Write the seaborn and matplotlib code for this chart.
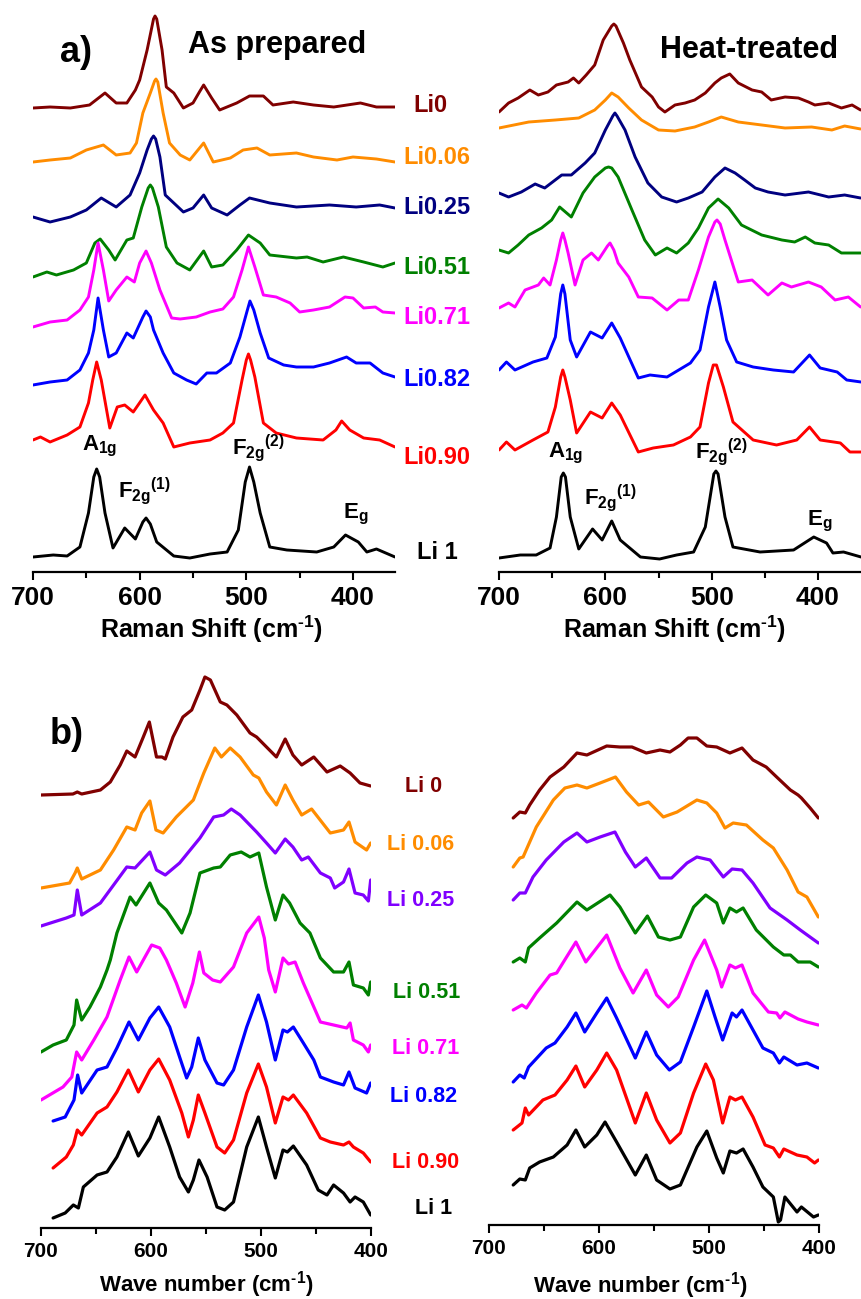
import matplotlib
matplotlib.use("Agg")
import matplotlib.pyplot as plt
import pandas as pd
import seaborn as sns
from matplotlib.ticker import MultipleLocator

# ---------------- data (wavenumber, displayed intensity incl. offset) ----------------
# a) As prepared
ap_li0 = [(700,464),(684,465),(665,464),(647,467),(632.5,479),(622,469),(612,469),(604,482),(600,492),(593,522),(587,553),(585.6,556),(584,553),(579,522),(575,485),(568,479),(559,464),(550,469),(544,480),(540,487),(532.5,474),(525,462),(509,469),(497,476),(484,476),(475,467),(456,470),(437,467),(418,465),(393,469),(378,465),(360.6,465)]
ap_li006 = [(700,410),(684,412),(665,414),(650,422),(634,427),(622,417),(609,419),(603,429),(597,459),(590,479),(586,491),(584.7,493),(583,490),(578,459),(572,429),(562,417),(553,412),(540,429),(531,410),(515,414),(503,422),(490,424),(478,417),(453,419),(437,415),(415,412),(400,415),(378,413),(360.6,410)]
ap_li025 = [(700,355),(684,350),(665,355),(650,362),(636,374),(622,365),(609,377),(600,399),(593,422),(589,433),(587,436),(585,433),(581,415),(576,377),(568,369),(559,360),(550,364),(540,377),(532.5,364),(518,357),(506,367),(497,374),(478,369),(453,365),(422,367),(397,365),(375,367),(360.6,364)]
ap_li051 = [(700,295),(687,300),(678,297),(662,302),(650,309),(642,329),(637,333),(629,322),(623,312),(612,332),(606,334),(598,365),(592,384),(590,387),(588,384),(582.5,365),(575,325),(565,309),(553,302),(540,321),(532.5,305),(522,307),(509,322),(498,337),(487,329),(478,317),(453,314),(443,315),(428,310),(409,315),(390,310),(372,305),(360.6,309)]
ap_li071 = [(700,245),(684,250),(668,252),(656,262),(648,275),(643,302),(639,329),(634,302),(629,271),(622,282),(612,295),(605,290),(600,309),(594,321),(589,309),(581,282),(570,254),(562,253),(547,255),(534,260),(522,263),(512,275),(504,302),(498,325),(492,305),(484,277),(472,275),(459,269),(450,260),(437,262),(422,265),(407.5,275),(400,274),(390,264),(379,265),(372,260),(360.6,259)]
ap_li082 = [(700,187),(684,190),(668,192),(656,202),(648,219),(643,242),(639,274),(634,242),(629,215),(622,219),(612,239),(606,234),(597,255),(594,261),(590,255),(587,242),(578,219),(568,199),(556,192),(547,188),(537,199),(528,199),(515,209),(506,235),(499,262),(496.6,271),(493,262),(487,239),(479,214),(465,207),(453,205),(437,205),(422,209),(406,215),(397,209),(384,209),(372,199),(360.6,195)]
ap_li090 = [(700,132),(693,135),(684,130),(668,137),(656,145),(648,169),(644,192),(640.3,210),(636,192),(628,144),(621,165),(614,167),(606,160),(595,177),(587,162),(578,149),(568,125),(553,129),(534,132),(522,139),(512,149),(504,192),(500,212),(498,218),(496,212),(492,195),(484,149),(472,139),(453,134),(428,132),(416,142),(410.6,151),(403,142),(390,134),(375,132),(360.6,125)]
ap_li1 = [(700,15),(681,17),(668,16),(656,25),(648,59),(643,95),(640.3,103),(637.5,95),(632.5,59),(625,24),(614,44),(604,33),(597,50),(594,54),(590,48),(584,30),(568,16),(553,14),(534,18),(518,20),(507.5,42),(501,90),(497,105),(493,90),(487,59),(478,25),(462,22),(434,20),(418,25),(407,37),(395,30),(387,20),(378,23),(360.6,15)]

# a) Heat-treated
ht_li0 = [(700,460),(691,469),(682,474),(671,482),(663,477),(654,480),(646,487),(635,490),(630,494),(625,489),(618,497),(610,507),(602,532),(594,546),(592,548),(590,546),(583,529),(577,512),(566,485),(556,475),(550,465),(544,460),(534.5,467),(525,469),(516,472),(506,479),(497,489),(491,494),(483,498),(475,489),(462,482),(453,480),(444,472),(431,475),(418.5,474),(409,470),(403,467),(390,469),(378,464),(368,467),(360,462)]
ht_li006 = [(700,444),(672,450),(647,452),(625,454),(610,462),(600,472),(594,479),(588,475),(578,464),(566,452),(550,442),(534.5,441),(516,445),(503,450),(491,455),(475,450),(453,447),(431,444),(406,445),(387,442),(375,446),(360,443)]
ht_li025 = [(700,379),(691,375),(679,380),(666,388),(657,384),(641,397),(632,397),(619,409),(610,419),(600,442),(593,456),(591,459),(589,456),(581.5,442),(572,415),(560,389),(547,375),(533,370),(522,374),(509,380),(497,395),(487.5,404),(478,399),(469,392),(459,384),(447,380),(431,377),(409,380),(390,375),(375,377),(360,374)]
ht_li051 = [(700,322),(691,319),(682,327),(672,337),(660,344),(650.5,352),(643,365),(632,355),(621,379),(610,395),(600,404),(597,405),(594,404),(588,395),(575,362),(563,332),(553,317),(542,324),(533,319),(522,329),(512.5,344),(503,364),(494,373),(484,364),(472,347),(453,337),(434,332),(422,330),(412,335),(403,329),(390,327),(378,319),(360,319)]
ht_li071 = [(700,264),(691,269),(685,265),(675.5,282),(663,287),(658,294),(652,287),(646,312),(642,332),(640,339),(638,332),(635,319),(628.5,287),(621,312),(613,319),(606.6,312),(598,326),(595.6,329),(592,322),(588,309),(578,295),(569,275),(556,274),(542,262),(531,272),(522,272),(512.5,302),(503,335),(497,350),(495,352),(492,348),(487.5,332),(475,290),(462,292),(447,277),(434,289),(425,285),(409,290),(397,285),(384,272),(371.5,275),(360,265)]
ht_li082 = [(700,202),(693,210),(685,202),(668,210),(655,214),(647,235),(642,278),(640,287),(638,278),(633,232),(627,215),(614,240),(603,234),(594,249),(586,234),(569,194),(558,197),(542,195),(520,209),(511,222),(503,265),(497,290),(492,265),(486,232),(476.5,210),(461,205),(442,202),(423,200),(408,217),(398,204),(382,200),(373,192),(359.6,190)]
ht_li090 = [(700,122),(693,130),(685,122),(668,132),(654,140),(647,165),(642,195),(640,202),(638,195),(633,172),(627,139),(614,160),(603,154),(594,169),(586,157),(569,120),(555,124),(536,127),(520,135),(511,145),(503,189),(498.5,207),(495.5,207),(489,185),(480,150),(461,132),(439,127),(420,132),(408,145),(398,132),(379,129),(370,120),(359.6,120)]
ht_li1 = [(700,14),(680,17),(665,17),(652,24),(646,55),(641.5,95),(639.5,99),(637.5,95),(633,55),(625,23),(612,43),(603,32),(594,51),(586,32),(567,15),(549,13),(533,17),(517,20),(506,45),(498,98),(496,101),(494,98),(487.5,55),(480,25),(454.5,20),(423,22),(404,35),(392,29),(386,19),(376,20),(359.6,15)]

# b) left
bl_li0 = [(700,433),(671,434),(667,436),(663,434),(646,438),(637,446),(628,463),(622,477),(614.5,471),(607,491),(601.5,506),(595,471),(590,471),(587,469),(580,491),(571,511),(563,518),(555.5,538),(551,551),(546,548),(537,526),(531,523),(522,513),(510,495),(504,491),(495,481),(486,471),(478,489),(471,473),(463,463),(452,471),(440,456),(428,462),(419,455),(410,445),(400.3,442)]
bl_li006 = [(700,340),(674,345),(669,355),(667,360),(663,349),(646,358),(634,378),(622,401),(614.5,398),(608.5,415),(601,427),(595.5,398),(589,395),(577,411),(561.5,428),(552,455),(542,480),(536,471),(528,480),(519,471),(507,453),(502,450),(495,436),(486,423),(478,443),(471,428),(463,413),(454,419),(437,395),(425,398),(420,406),(414.5,386),(404,378),(400.3,385)]
bl_li025 = [(700,302),(677,310),(670,313),(667,338),(663,313),(646,325),(634,343),(622,361),(614.5,360),(601,376),(595,358),(587,353),(574,365),(555.5,390),(543,411),(534,413),(527,419),(519,413),(504,396),(495,385),(487,375),(478,389),(471,381),(463,368),(457,371),(446,355),(437,350),(433,340),(425,346),(420,359),(414.5,335),(407,333),(402.4,327),(400.3,348)]
bl_li051 = [(700,176),(689,183),(677,188),(670,203),(667.6,228),(663,208),(655.5,221),(646,241),(640,258),(637,268),(631,295),(619,331),(613.6,323),(601,345),(593,325),(586,318),(572,295),(564.5,315),(555.5,355),(543,360),(537,361),(528,373),(518,376),(510,371),(502,375),(495,341),(487,308),(480,333),(474,325),(464.5,305),(455.5,295),(446,270),(434,256),(425,256),(420,266),(416,243),(407,240),(402.4,233),(400.3,246)]
bl_li071 = [(700,128),(680,141),(672,151),(667.6,176),(663,168),(652,188),(640,211),(628,248),(620,271),(613,256),(606,270),(599.4,283),(592,280),(586,268),(577,245),(569,221),(562,245),(556,276),(552,255),(544,248),(537,246),(525,261),(513,295),(502,311),(497,290),(493,258),(487,236),(480,270),(475,264),(469,266),(461.5,245),(446,206),(434,203),(422,200),(419,205),(416,188),(407,183),(402.4,176),(400.3,183)]
bl_li082 = [(689,107),(678,111),(670,128),(666.7,153),(663,135),(649,158),(640,161),(631,180),(620,206),(611.5,188),(601,210),(593,221),(583,201),(574,171),(567.6,150),(563,161),(557,190),(551,168),(540,145),(534,143),(525,158),(513,201),(502.4,233),(495,206),(487,168),(480,198),(476,196),(470.6,201),(461.5,185),(452,168),(446,151),(434,146),(425,143),(420,156),(414.5,140),(404,135),(400.3,145)]
bl_li090 = [(689,60),(677,71),(670.6,83),(667,98),(663,93),(649,115),(640,121),(631,136),(620.6,158),(611.5,136),(601,158),(593,169),(583,148),(572,115),(566,91),(561.5,108),(557,133),(551,115),(540,81),(533,75),(525,88),(513,135),(502.4,164),(495,141),(487,105),(480,131),(475,128),(470.6,133),(458.5,115),(446,90),(437,86),(425,83),(420,86),(416,81),(407,75),(400.3,66)]
bl_li1 = [(689,10),(678,15),(670.6,23),(666,20),(661.5,41),(649,53),(640,56),(631,71),(620.6,96),(611.5,72),(601,90),(593,111),(583,81),(574,51),(566,36),(561.5,48),(556.4,68),(549,51),(540,21),(533,18),(525,26),(513,81),(502.4,111),(495,81),(487,50),(480,78),(476,76),(470.6,82),(458.5,63),(448,38),(440,33),(434,43),(425,35),(419,26),(414.5,31),(407,26),(400.3,13)]

# b) right
br_li0 = [(678,407),(672,413),(667,412),(663,420),(654,435),(644.5,448),(632,458),(620,472),(611,470),(593,479),(581,478),(570,478),(557,472),(544.5,475),(535.5,473),(526,480),(519,487),(511,487),(502,479),(493,478),(481,472),(470,477),(460,465),(448,458),(438.5,448),(426,435),(419,430),(416,427),(408,417),(400.6,407)]
br_li006 = [(678,358),(672,367),(669,368),(657,398),(641.5,425),(631,437),(620,440),(611,437),(599,442),(585,448),(575,433),(564,420),(555,423),(541.5,408),(529,413),(511,425),(502,422),(493,412),(485.5,397),(478,402),(466,400),(451,385),(441.5,377),(429,355),(419,333),(411,328),(400.6,308)]
br_li025 = [(678,325),(672,332),(667,332),(660,348),(648,365),(632,383),(620,392),(611,383),(599,388),(585.5,393),(576,373),(567,358),(557,367),(544.5,347),(534,347),(520,362),(511,368),(499,365),(487,348),(479,356),(470,355),(460,342),(444.5,317),(429,305),(417,295),(400.6,282)]
br_li051 = [(678,263),(672,267),(667,263),(664,277),(654,287),(638.5,302),(620,323),(611,315),(590,330),(581,318),(567,292),(556,309),(546,288),(535.5,285),(526,288),(514,318),(503,330),(493,322),(487,302),(481,317),(475,313),(469,317),(457,295),(441.5,278),(432,270),(426,270),(419,263),(408,263),(400.6,258)]
br_li071 = [(678,215),(670,220),(666,217),(657,232),(644.5,250),(638.5,252),(621,283),(612,263),(593,290),(581,257),(569,232),(557,255),(547.6,230),(537,218),(528,228),(514,265),(504,285),(493,255),(488.5,238),(481,260),(476,257),(470,260),(460,232),(446,213),(438.5,212),(435.5,207),(431,213),(419,206),(411,203),(400.6,200)]
br_li082 = [(678,143),(672,150),(668,147),(664,158),(648,177),(640,182),(629,198),(621,212),(613,193),(602,212),(593,227),(584,207),(567,167),(557,193),(547.6,170),(536,155),(526,163),(514,198),(502,234),(494.5,208),(487.6,185),(479,212),(475,208),(470,215),(460,195),(451,177),(441.5,172),(436,162),(432,168),(420,160),(411,162),(400.6,157)]
br_li090 = [(678,95),(670,102),(667,117),(664,110),(651,125),(640,130),(629,145),(621,159),(613,138),(602,155),(593,172),(584,155),(567,102),(557,132),(547.6,105),(535.5,82),(526,92),(514,132),(503,161),(496,145),(487.6,102),(481,128),(476,125),(470,128),(460,108),(449,80),(441.5,77),(436,68),(432,76),(420,70),(411,68),(404,62),(400.6,65)]
br_li1 = [(678,40),(672,46),(667,45),(663,57),(654,63),(641.5,68),(629,80),(621,95),(613,78),(602,90),(594.5,103),(584,83),(567,50),(557,70),(547.6,45),(535.5,36),(526,40),(511,78),(502,94),(493,67),(487,52),(481,74),(475,72),(469,76),(460,58),(451,38),(441.5,28),(437,3),(435,5),(431,28),(420,13),(416,18),(405,8),(400.6,10)]

top_names = ["Li0", "Li0.06", "Li0.25", "Li0.51", "Li0.71", "Li0.82", "Li0.90", "Li 1"]
bot_names = ["Li 0", "Li 0.06", "Li 0.25", "Li 0.51", "Li 0.71", "Li 0.82", "Li 0.90", "Li 1"]
top_colors = ["#800000", "#FF8C00", "#000080", "#008000", "#FF00FF", "#0000FF", "#FF0000", "#000000"]
bot_colors = ["#800000", "#FF8C00", "#8000FF", "#008000", "#FF00FF", "#0000FF", "#FF0000", "#000000"]

ap_curves = [ap_li0, ap_li006, ap_li025, ap_li051, ap_li071, ap_li082, ap_li090, ap_li1]
ht_curves = [ht_li0, ht_li006, ht_li025, ht_li051, ht_li071, ht_li082, ht_li090, ht_li1]
bl_curves = [bl_li0, bl_li006, bl_li025, bl_li051, bl_li071, bl_li082, bl_li090, bl_li1]
br_curves = [br_li0, br_li006, br_li025, br_li051, br_li071, br_li082, br_li090, br_li1]


def to_frame(curves, names):
    rows = []
    for name, pts in zip(names, curves):
        for x, y in pts:
            rows.append((name, x, y))
    return pd.DataFrame(rows, columns=["sample", "wn", "intensity"])


sns.set_theme(style="white")
plt.rcParams["font.family"] = ["Liberation Sans", "DejaVu Sans"]
plt.rcParams["font.weight"] = "bold"
plt.rcParams["text.color"] = "black"
plt.rcParams["axes.labelcolor"] = "black"
plt.rcParams["xtick.color"] = "black"
plt.rcParams["xtick.labelcolor"] = "black"
plt.rcParams["mathtext.fontset"] = "custom"
plt.rcParams["mathtext.rm"] = "Liberation Sans:bold"
plt.rcParams["mathtext.it"] = "Liberation Sans:bold"
plt.rcParams["mathtext.bf"] = "Liberation Sans:bold"
plt.rcParams["mathtext.default"] = "bf"

W, H = 861, 1299
fig = plt.figure(figsize=(W / 100, H / 100), dpi=100)
fig.patch.set_facecolor("white")


def add_ax(left, right, top, bottom):
    ax = fig.add_axes([left / W, 1 - bottom / H, (right - left) / W, (bottom - top) / H])
    ax.set_facecolor("none")
    return ax


def ftext(px, py, s, **kw):
    fig.text(px / W, 1 - py / H, s, **kw)


def draw_panel(ax, curves, names, colors, xlim, ylim, lw, tick_fs, xlabel, label_fs, label_xy):
    df = to_frame(curves, names)
    sns.lineplot(data=df, x="wn", y="intensity", hue="sample", hue_order=names,
                 palette=colors, estimator=None, sort=False, legend=False,
                 linewidth=lw, ax=ax)
    ax.set_xlim(*xlim)
    ax.set_ylim(*ylim)
    for s in ["top", "left", "right"]:
        ax.spines[s].set_visible(False)
    ax.spines["bottom"].set_linewidth(1.6)
    ax.spines["bottom"].set_color("black")
    ax.set_yticks([])
    ax.set_ylabel("")
    ax.xaxis.set_major_locator(MultipleLocator(100))
    ax.xaxis.set_minor_locator(MultipleLocator(50))
    ax.tick_params(axis="x", which="major", direction="out", length=6, width=1.5,
                   labelsize=tick_fs, pad=4, bottom=True, colors="black", labelcolor="black")
    ax.tick_params(axis="x", which="minor", direction="out", length=4, width=1.5, bottom=True,
                   colors="black")
    for t in ax.get_xticklabels():
        t.set_fontweight("bold")
    ax.set_xlabel(xlabel, fontsize=label_fs, fontweight="bold", color="black")
    ax.xaxis.label.set_va("center")
    ax.xaxis.set_label_coords(*label_xy)


ax_tl = add_ax(33, 395, 0, 572)
draw_panel(ax_tl, ap_curves, top_names, top_colors, (700, 360.6), (0, 572), 2.1, 19,
           r"Raman Shift (cm$^{\text{-}1}$)", 18, (0.494, -0.101))
ax_tr = add_ax(499, 861, 0, 572)
draw_panel(ax_tr, ht_curves, top_names, top_colors, (700, 359.6), (0, 572), 2.1, 19,
           r"Raman Shift (cm$^{\text{-}1}$)", 18, (0.486, -0.101))
ax_bl = add_ax(41, 371, 640, 1228)
draw_panel(ax_bl, bl_curves, bot_names, bot_colors, (700, 400), (0, 588), 2.3, 15,
           r"Wave number (cm$^{\text{-}1}$)", 16, (0.5, -0.097))
ax_br = add_ax(489, 819, 640, 1225)
draw_panel(ax_br, br_curves, bot_names, bot_colors, (700, 400), (0, 585), 2.3, 15,
           r"Wave number (cm$^{\text{-}1}$)", 16, (0.457, -0.103))

# panel titles
ftext(60, 52, "a)", fontsize=26, fontweight="bold", va="center", ha="left")
ftext(188, 53, "As prepared", fontsize=22, fontweight="bold", va="baseline", ha="left")
ftext(660, 58, "Heat-treated", fontsize=22, fontweight="bold", va="baseline", ha="left")
ftext(50, 735, "b)", fontsize=26, fontweight="bold", va="center", ha="left")

# sample labels
top_label_pos = [(413, 105), (403, 157), (403, 208), (403, 268), (403, 318), (403, 380), (403, 457), (417, 553)]
for (px, py), name, c in zip(top_label_pos, top_names, top_colors):
    ftext(px, py, name, fontsize=17, fontweight="bold", color=c, va="center", ha="left")
bot_label_pos = [(405, 787), (387, 845), (387, 900), (393, 993), (392, 1048), (390, 1096), (392, 1162), (415, 1208)]
for (px, py), name, c in zip(bot_label_pos, bot_names, bot_colors):
    ftext(px, py, name, fontsize=15.5, fontweight="bold", color=c, va="center", ha="left")

# peak assignments
peak_fs = 16
for (ax_x, a_y, f1x, f1y, f2x, f2y, ex, ey) in [(82, 450, 118, 498, 232, 455, 343, 518),
                                                 (548, 457, 584, 505, 695, 459, 807, 525)]:
    ftext(ax_x, a_y, r"$A_{1g}$", fontsize=peak_fs, va="baseline", ha="left")
    ftext(f1x, f1y, r"$F_{2g}{}^{(1)}$", fontsize=peak_fs, va="baseline", ha="left")
    ftext(f2x, f2y, r"$F_{2g}{}^{(2)}$", fontsize=peak_fs, va="baseline", ha="left")
    ftext(ex, ey, r"$E_{g}$", fontsize=peak_fs, va="baseline", ha="left")

fig.savefig("out.png", dpi=100, facecolor="white")
